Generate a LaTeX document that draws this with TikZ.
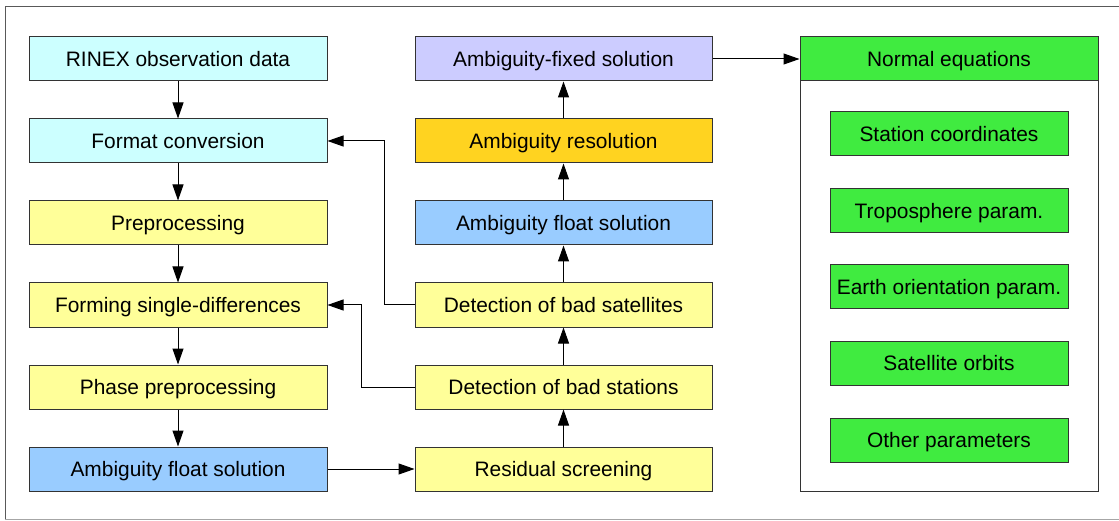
\documentclass[tikz,border=0pt]{standalone}
\usepackage{fontspec}
\setmainfont{Liberation Sans}
\usetikzlibrary{arrows.meta}
\definecolor{cyanbox}{HTML}{CCFFFF}
\definecolor{yelbox}{HTML}{FFFF99}
\definecolor{bluebox}{HTML}{99CCFF}
\definecolor{goldbox}{HTML}{FFD320}
\definecolor{lavbox}{HTML}{CCCCFF}
\definecolor{grnbox}{HTML}{40EB40}
\tikzset{
  box/.style={draw=black!80, line width=1pt, inner sep=0pt, minimum width=298pt, minimum height=44pt, text height=15pt, text depth=0pt, font=\fontsize{20.9}{24}\selectfont},
  pbox/.style={box, minimum width=238pt, fill=grnbox},
  conn/.style={line width=1pt, -{Triangle[length=16pt,width=11pt]}},
}
\begin{document}
\begin{tikzpicture}[x=1pt,y=-1pt]
\useasboundingbox (0,0) rectangle (1119,521);
% frame
\draw[black!65, line width=1pt] (5,519) -- (5,7) -- (1119,7);
\draw[black!35, line width=1pt] (5,519) -- (1119,519);
% left column
\node[box, fill=cyanbox] (rinex) at (178,59) {RINEX observation data};
\node[box, fill=cyanbox] (format) at (178,141) {Format conversion};
\node[box, fill=yelbox] (prep) at (178,223) {Preprocessing};
\node[box, fill=yelbox] (forming) at (178,305) {Forming single-differences};
\node[box, fill=yelbox] (phase) at (178,387) {Phase preprocessing};
\node[box, fill=bluebox] (floatL) at (178,469) {Ambiguity float solution};
% middle column
\node[box, minimum width=297pt, fill=lavbox] (fixed) at (563.5,59) {Ambiguity-fixed solution};
\node[box, minimum width=297pt, fill=goldbox] (resol) at (563.5,141) {Ambiguity resolution};
\node[box, minimum width=297pt, fill=bluebox] (floatM) at (563.5,223) {Ambiguity float solution};
\node[box, minimum width=297pt, fill=yelbox] (sats) at (563.5,305) {Detection of bad satellites};
\node[box, minimum width=297pt, fill=yelbox] (stations) at (563.5,387) {Detection of bad stations};
\node[box, minimum width=297pt, fill=yelbox] (resid) at (563.5,469) {Residual screening};
% right: normal equations
\node[draw=black!80, line width=1pt, fill=white, minimum width=298pt, minimum height=454pt, inner sep=0pt] (normbox) at (949,264) {};
\node[box, fill=grnbox] (normal) at (949,59) {Normal equations};
\node[pbox] (coord) at (949,134) {Station coordinates};
\node[pbox] (tropo) at (949,211) {Troposphere param.};
\node[pbox] (eop) at (949,287) {Earth orientation param.};
\node[pbox] (orbit) at (949,363) {Satellite orbits};
\node[pbox] (other) at (949,440) {Other parameters};
% connectors
\draw[conn] (rinex) -- (format);
\draw[conn] (format) -- (prep);
\draw[conn] (prep) -- (forming);
\draw[conn] (forming) -- (phase);
\draw[conn] (phase) -- (floatL);
\draw[conn] (floatL) -- (resid);
\draw[conn] (resid) -- (stations);
\draw[conn] (stations) -- (sats);
\draw[conn] (sats) -- (floatM);
\draw[conn] (floatM) -- (resol);
\draw[conn] (resol) -- (fixed);
\draw[conn] (fixed) -- (normal);
\draw[conn] (sats.west) -- ++(-30,0) |- (format.east);
\draw[conn] (stations.west) -- ++(-53,0) |- (forming.east);
\end{tikzpicture}
\end{document}
